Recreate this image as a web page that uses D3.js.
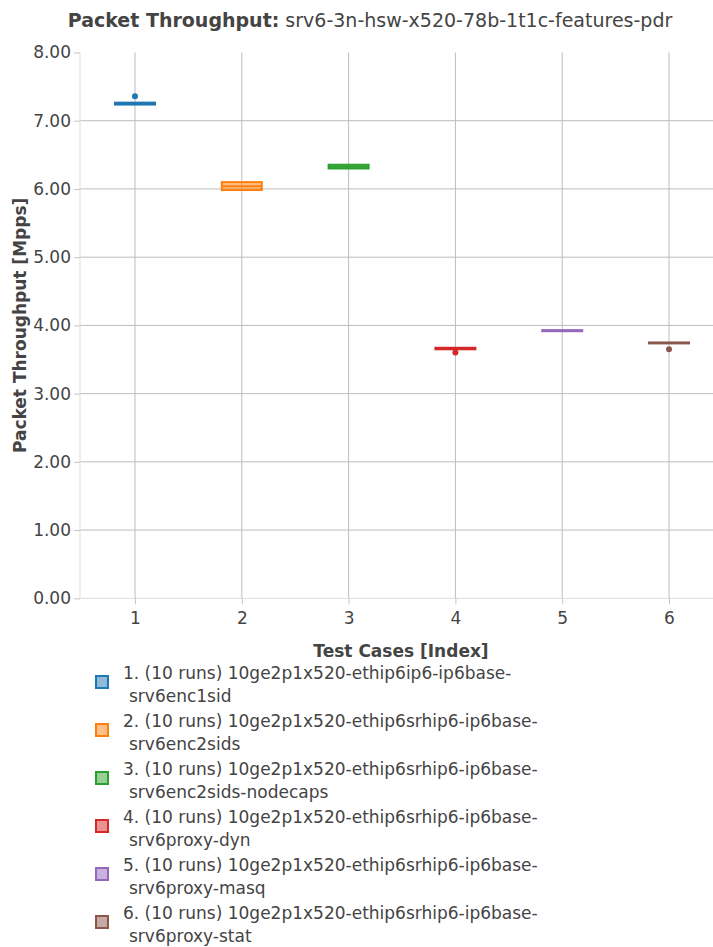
<!DOCTYPE html>
<html><head><meta charset="utf-8">
<script src="https://cdn.jsdelivr.net/npm/d3@7"></script>
<style>body{margin:0;background:#fff}svg{display:block;font-family:"DejaVu Sans",sans-serif}</style>
</head><body><svg id="c" width="713" height="947"></svg>
<script>
const cases = [1, 2, 3, 4, 5, 6];
const names = [
  ["1. (10 runs) 10ge2p1x520-ethip6ip6-ip6base-", "srv6enc1sid"],
  ["2. (10 runs) 10ge2p1x520-ethip6srhip6-ip6base-", "srv6enc2sids"],
  ["3. (10 runs) 10ge2p1x520-ethip6srhip6-ip6base-", "srv6enc2sids-nodecaps"],
  ["4. (10 runs) 10ge2p1x520-ethip6srhip6-ip6base-", "srv6proxy-dyn"],
  ["5. (10 runs) 10ge2p1x520-ethip6srhip6-ip6base-", "srv6proxy-masq"],
  ["6. (10 runs) 10ge2p1x520-ethip6srhip6-ip6base-", "srv6proxy-stat"]
];
const colors = ["#1f77b4", "#ff7f0e", "#2ca02c", "#d62728", "#9467bd", "#8c564b"];
const q1 = [7.237, 5.984, 6.300, 3.650, 3.915, 3.736];
const median = [7.250, 6.040, 6.327, 3.660, 3.922, 3.742];
const q3 = [7.265, 6.100, 6.355, 3.672, 3.930, 3.750];
const lowWhisker = [7.237, 5.984, 6.300, 3.650, 3.915, 3.736];
const highWhisker = [7.265, 6.100, 6.355, 3.672, 3.930, 3.750];
const outliers = [[7.36], [], [], [3.603], [], [3.651]];
const yTicks = [0, 1, 2, 3, 4, 5, 6, 7, 8];

const svg = d3.select("#c");
const x = d3.scaleLinear().domain([0.5, 6.5]).range([81.6, 722.4]);
const y = d3.scaleLinear().domain([0, 8]).range([598.3, 52.5]);
const left = 80, right = 713;
const gridCol = "#bdbdbd";

// grid
svg.append("g").selectAll("line").data(yTicks.filter(d => d > 0 && d < 8)).join("line")
  .attr("x1", left).attr("x2", right).attr("y1", d => y(d)).attr("y2", d => y(d))
  .attr("stroke", gridCol).attr("stroke-width", 1);
svg.append("g").selectAll("line").data(cases).join("line")
  .attr("x1", d => x(d)).attr("x2", d => x(d)).attr("y1", y(8)).attr("y2", y(0))
  .attr("stroke", gridCol).attr("stroke-width", 1);
// frame lines
svg.append("line").attr("x1", left).attr("x2", left).attr("y1", y(8)).attr("y2", y(0)).attr("stroke", "#dcdcdc");
svg.append("line").attr("x1", left).attr("x2", right).attr("y1", y(0)).attr("y2", y(0)).attr("stroke", "#dcdcdc");

// axes
const yAxis = d3.axisLeft(y).tickValues(yTicks).tickFormat(d3.format(".2f")).tickSize(6).tickPadding(3);
const gy = svg.append("g").attr("transform", `translate(${left},0)`).call(yAxis);
gy.select(".domain").remove();
gy.selectAll(".tick line").attr("stroke", "#c4c4c4");
gy.selectAll("text").attr("fill", "#444").style("font-size", "17px").style("font-family", "DejaVu Sans");

const xAxis = d3.axisBottom(x).tickValues(cases).tickFormat(d3.format("d")).tickSize(6).tickPadding(8);
const gx = svg.append("g").attr("transform", `translate(0,${y(0)})`).call(xAxis);
gx.select(".domain").remove();
gx.selectAll(".tick line").attr("stroke", "#c4c4c4");
gx.selectAll("text").attr("fill", "#444").style("font-size", "17px").style("font-family", "DejaVu Sans");

// boxes
const bw = 20;
const boxes = svg.append("g").selectAll("g").data(cases).join("g");
boxes.append("line").attr("x1", d => x(d)).attr("x2", d => x(d))
  .attr("y1", (d, i) => y(highWhisker[i])).attr("y2", (d, i) => y(q3[i]))
  .attr("stroke", (d, i) => colors[i]).attr("stroke-width", 2);
boxes.append("line").attr("x1", d => x(d)).attr("x2", d => x(d))
  .attr("y1", (d, i) => y(lowWhisker[i])).attr("y2", (d, i) => y(q1[i]))
  .attr("stroke", (d, i) => colors[i]).attr("stroke-width", 2);
boxes.append("rect")
  .attr("x", d => x(d) - bw).attr("width", bw * 2)
  .attr("y", (d, i) => y(q3[i])).attr("height", (d, i) => y(q1[i]) - y(q3[i]))
  .attr("fill", (d, i) => colors[i]).attr("fill-opacity", 0.5)
  .attr("stroke", (d, i) => colors[i]).attr("stroke-width", 2);
boxes.append("line").attr("x1", d => x(d) - bw).attr("x2", d => x(d) + bw)
  .attr("y1", (d, i) => y(median[i])).attr("y2", (d, i) => y(median[i]))
  .attr("stroke", (d, i) => colors[i]).attr("stroke-width", 2);
boxes.selectAll("circle").data((d, i) => outliers[i].map(v => ({c: d, v, i}))).join("circle")
  .attr("cx", o => x(o.c)).attr("cy", o => y(o.v)).attr("r", 3)
  .attr("fill", o => colors[o.i]);

// titles
const t = svg.append("text").attr("x", 370).attr("y", 27).attr("text-anchor", "middle")
  .attr("fill", "#444").style("font-size", "19px");
t.append("tspan").attr("font-weight", "bold").text("Packet Throughput:");
t.append("tspan").text(" srv6-3n-hsw-x520-78b-1t1c-features-pdr");

svg.append("text").attr("transform", `translate(26,${y(4)}) rotate(-90)`).attr("text-anchor", "middle")
  .attr("fill", "#444").attr("font-weight", "bold").style("font-size", "17px").text("Packet Throughput [Mpps]");
svg.append("text").attr("x", 401).attr("y", 657).attr("text-anchor", "middle")
  .attr("fill", "#444").attr("font-weight", "bold").style("font-size", "17px").text("Test Cases [Index]");

// legend
const lg = svg.append("g").selectAll("g").data(names).join("g")
  .attr("transform", (d, i) => `translate(0,${i * 48})`);
lg.append("rect").attr("x", 96).attr("y", 676).attr("width", 12).attr("height", 12)
  .attr("fill", (d, i) => colors[i]).attr("fill-opacity", 0.5)
  .attr("stroke", (d, i) => colors[i]).attr("stroke-width", 2);
lg.append("text").attr("x", 123).attr("y", 679).attr("fill", "#444").style("font-size", "17px").text(d => d[0]);
lg.append("text").attr("x", 129).attr("y", 702).attr("fill", "#444").style("font-size", "17px").text(d => d[1]);
</script></body></html>
